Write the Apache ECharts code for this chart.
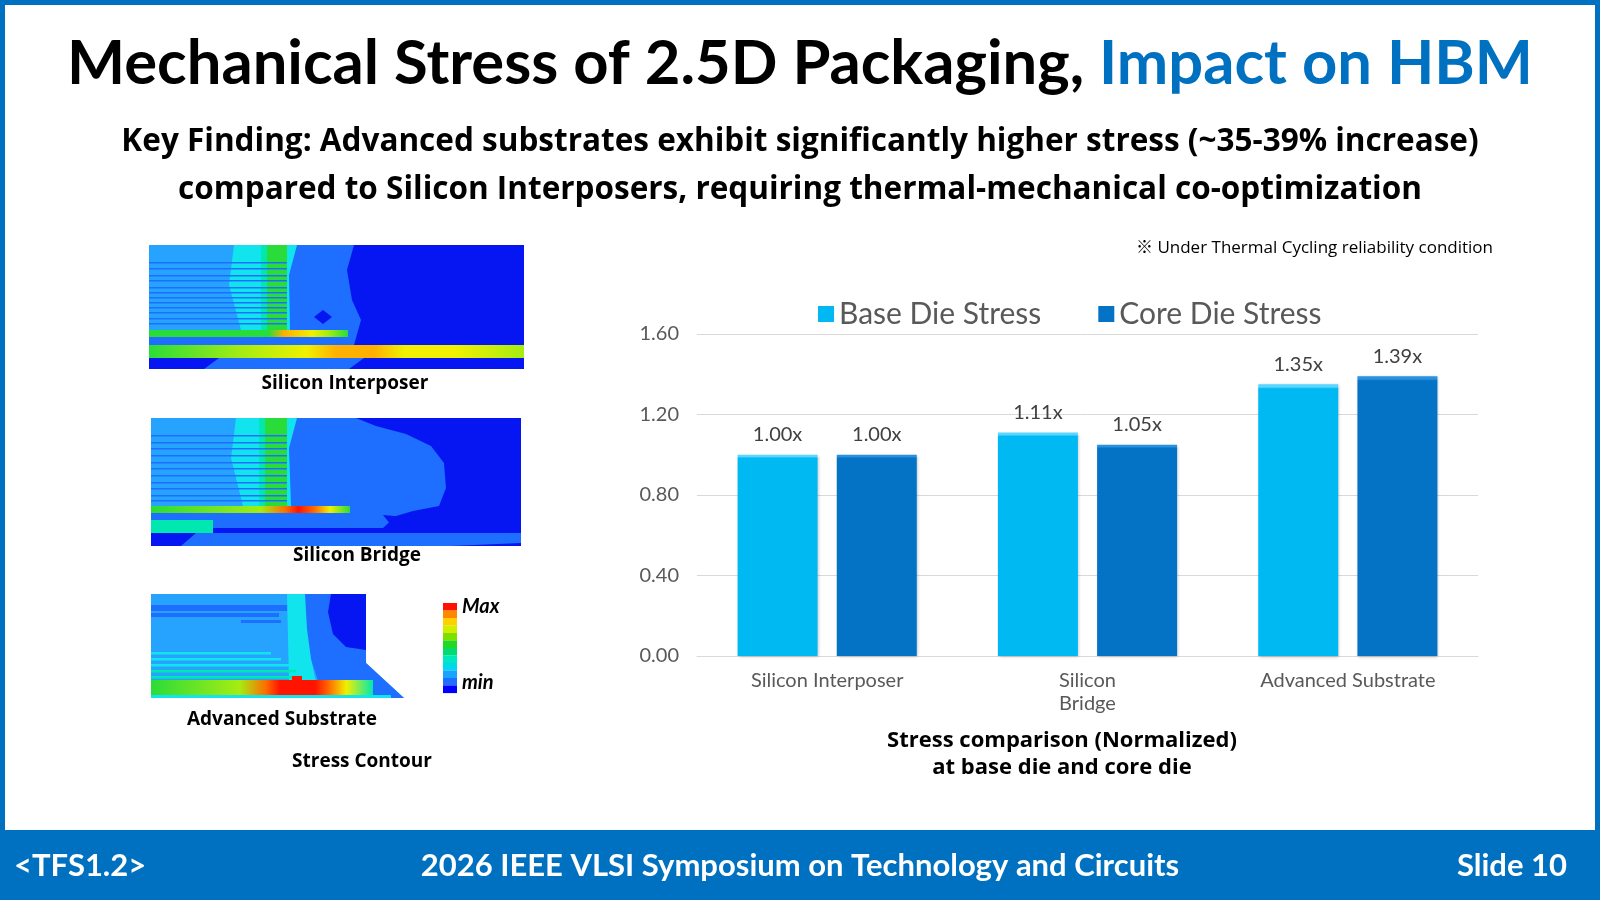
<!DOCTYPE html>
<html>
<head>
<meta charset="utf-8">
<script src="https://cdn.jsdelivr.net/npm/echarts@6/dist/echarts.min.js"></script>
<style>
  html, body { margin: 0; padding: 0; background: #fff; }
  #chart { width: 1600px; height: 900px; }
</style>
</head>
<body>
<div id="chart"></div>
<script>
const categories = ['Silicon Interposer', 'Silicon\nBridge', 'Advanced Substrate'];
const baseDieStress = [1.00, 1.11, 1.35];
const coreDieStress = [1.00, 1.05, 1.39];
const yTicks = [0, 0.4, 0.8, 1.2, 1.6];

const BLUE = '#0070c0';
const FONT = 'Lato';
const BODY = '"Open Sans", Lato';

// contour palette, min -> max
const C = {
  deep: '#0616f2', mid: '#1e6eff', light: '#25a3ff', cyan: '#12e4ee', aqua: '#00e8b0',
  green: '#2adc3a', lime: '#a6ec12', yellow: '#f0f000', amber: '#ffb000', orange: '#ff6a00', red: '#ff1400',
};
const scale = ['#0000ff', '#1e6eff', '#1aa2ff', '#00d8f0', '#00e8c0', '#00dc70',
  '#22d822', '#7ee000', '#d2ee00', '#ffd000', '#ff8800', '#ff1000'];

const chart = echarts.init(document.getElementById('chart'));

const grad = (stops) => new echarts.graphic.LinearGradient(0, 0, 1, 0,
  stops.map(([offset, color]) => ({ offset, color })));
const bevel = (top, body) => new echarts.graphic.LinearGradient(0, 0, 0, 1, [
  { offset: 0, color: top }, { offset: 0.01, color: top },
  { offset: 0.016, color: body }, { offset: 1, color: body },
]);
const R = (x, y, width, height, fill) => ({ type: 'rect', shape: { x, y, width, height }, style: { fill } });
const P = (points, fill) => ({ type: 'polygon', shape: { points }, style: { fill } });
const T = (text, x, y, size, opts = {}) => ({
  type: 'text', x, y,
  style: Object.assign({
    text, fill: '#000', fontSize: size, fontWeight: 'bold', fontFamily: BODY,
    textAlign: 'center', textVerticalAlign: 'middle',
  }, opts),
});
const stripes = (ys, w) => ys.map((y) => R(0, y, w, 1.6, C.mid));

// contour picture 1: silicon interposer
const img1 = {
  type: 'group', x: 149, y: 245,
  children: [
    R(0, 0, 375, 124, C.deep),
    P([[0, 0], [205, 0], [198, 25], [203, 55], [212, 75], [205, 100], [0, 100]], C.mid),
    P([[0, 0], [125, 0], [118, 40], [122, 85], [0, 85]], C.light),
    P([[85, 0], [148, 0], [140, 30], [141, 85], [92, 85], [80, 40]], C.cyan),
    R(112, 0, 6, 85, C.aqua),
    R(118, 0, 20, 85, C.green),
    ...stripes([17, 23, 30, 35, 42, 47, 52, 57, 62, 67, 73, 78], 138),
    P([[174, 65], [183, 72], [174, 79], [165, 72]], C.deep),
    R(0, 85, 199, 7, grad([[0, C.green], [0.6, C.green], [0.68, C.amber], [0.82, C.yellow], [0.9, C.lime], [1, C.green]])),
    R(0, 100, 375, 13, grad([[0, C.green], [0.25, C.lime], [0.42, C.yellow], [0.5, C.amber], [0.6, C.amber], [0.68, C.yellow], [0.82, C.yellow], [1, C.lime]])),
    P([[55, 124], [70, 113], [215, 113], [200, 124]], C.mid),
  ],
};

// contour picture 2: silicon bridge
const img2 = {
  type: 'group', x: 151, y: 418,
  children: [
    R(0, 0, 370, 128, C.deep),
    P([[0, 0], [205, 0], [225, 8], [255, 16], [280, 28], [293, 45], [295, 70], [288, 88], [262, 93], [245, 98], [232, 110], [0, 110]], C.mid),
    P([[0, 0], [125, 0], [120, 40], [124, 88], [0, 88]], C.light),
    P([[85, 0], [146, 0], [138, 30], [140, 88], [92, 88], [80, 40]], C.cyan),
    R(108, 0, 6, 88, C.aqua),
    R(114, 0, 22, 88, C.green),
    ...stripes([17, 24, 30, 37, 44, 50, 57, 64, 70, 77, 82], 136),
    R(0, 88, 199, 7, grad([[0, C.green], [0.55, C.lime], [0.68, C.orange], [0.74, C.red], [0.82, C.orange], [0.9, C.yellow], [1, C.green]])),
    R(0, 102, 62, 13, C.aqua),
    P([[30, 128], [45, 115], [370, 115], [370, 125], [300, 128]], C.mid),
    P([[232, 97], [255, 99], [244, 112]], C.deep),
  ],
};

// contour picture 3: advanced substrate
const img3 = {
  type: 'group', x: 151, y: 594,
  children: [
    P([[0, 0], [215, 0], [215, 69], [253, 104], [0, 104]], C.light),
    P([[152, 0], [215, 0], [215, 69], [253, 104], [228, 104], [205, 96], [168, 90], [160, 65], [154, 35]], C.mid),
    P([[180, 0], [215, 0], [215, 56], [195, 53], [182, 40], [177, 18]], C.deep),
    P([[136, 0], [154, 0], [156, 35], [160, 65], [165, 88], [138, 88]], C.cyan),
    R(0, 11, 136, 6, C.mid),
    R(0, 19, 128, 4, C.mid),
    R(90, 26, 40, 3, C.mid),
    R(0, 58, 120, 2.5, C.cyan),
    R(0, 64, 130, 2.5, C.cyan),
    R(0, 70, 140, 2.5, C.cyan),
    R(0, 76, 145, 2.5, C.aqua),
    R(0, 82, 150, 2.5, C.aqua),
    R(0, 86, 222, 15, grad([[0, C.green], [0.4, C.lime], [0.52, C.orange], [0.58, C.red], [0.74, C.red], [0.8, C.orange], [0.88, C.yellow], [1, C.aqua]])),
    R(141, 82, 10, 5, C.red),
    R(0, 101, 240, 3, C.cyan),
  ],
};

const colorBar = {
  type: 'group', x: 443, y: 603,
  children: scale.slice().reverse().map((c, i) => R(0, i * 7.5, 14, 7.6, c)),
};

const valueLabel = { show: true, position: 'top', distance: 10, color: '#404040', fontSize: 20, fontFamily: FONT, formatter: (p) => p.value.toFixed(2) + 'x' };

const option = {
  backgroundColor: '#fff',
  textStyle: { fontFamily: FONT },
  title: [
    {
      text: '{a|Mechanical Stress of 2.5D Packaging, }{b|Impact on HBM}',
      left: 'center', top: 28,
      textStyle: {
        rich: {
          a: { fontSize: 61.5, fontWeight: 'bold', color: '#000', fontFamily: FONT },
          b: { fontSize: 61.5, fontWeight: 'bold', color: BLUE, fontFamily: FONT },
        },
      },
    },
    {
      text: 'Key Finding: Advanced substrates exhibit significantly higher stress (~35-39% increase)\ncompared to Silicon Interposers, requiring thermal-mechanical co-optimization',
      left: 'center', top: 113,
      textStyle: { fontSize: 31.5, fontWeight: 'bold', color: '#000', lineHeight: 48, align: 'center', fontFamily: BODY },
    },
  ],
  legend: {
    left: 813, top: 294,
    icon: 'rect', itemWidth: 16, itemHeight: 16, itemGap: 57,
    textStyle: { fontSize: 30, color: '#595959', fontFamily: FONT },
  },
  grid: { left: 697, right: 122, top: 334, bottom: 244 },
  xAxis: {
    type: 'category',
    data: categories,
    axisLine: { lineStyle: { color: '#d9d9d9' } },
    axisTick: { show: false },
    axisLabel: { color: '#595959', fontSize: 20, margin: 13, lineHeight: 23, fontFamily: FONT },
  },
  yAxis: {
    type: 'value',
    min: yTicks[0], max: yTicks[yTicks.length - 1], interval: yTicks[1] - yTicks[0],
    axisLine: { show: false },
    axisTick: { show: false },
    splitLine: { lineStyle: { color: '#d9d9d9' } },
    axisLabel: { color: '#595959', fontSize: 20, margin: 18, formatter: (v) => v.toFixed(2), fontFamily: FONT },
  },
  series: [
    {
      name: 'Base Die Stress', type: 'bar', data: baseDieStress,
      barWidth: 80, barGap: '24%',
      itemStyle: { color: bevel('#5cd6ff', '#00b9f2'), shadowColor: 'rgba(0,0,0,0.25)', shadowBlur: 3, shadowOffsetX: 1, shadowOffsetY: 1 },
      label: valueLabel,
    },
    {
      name: 'Core Die Stress', type: 'bar', data: coreDieStress,
      barWidth: 80,
      itemStyle: { color: bevel('#2a91df', '#0473c6'), shadowColor: 'rgba(0,0,0,0.25)', shadowBlur: 3, shadowOffsetX: 1, shadowOffsetY: 1 },
      label: valueLabel,
    },
  ],
  graphic: [
    R(0, 0, 1600, 5, BLUE),
    R(0, 0, 5, 900, BLUE),
    R(1595, 0, 5, 900, BLUE),
    R(0, 830, 1600, 70, BLUE),
    T('<TFS1.2>', 14, 866, 31, { fill: '#fff', textAlign: 'left', fontFamily: FONT }),
    T('2026 IEEE VLSI Symposium on Technology and Circuits', 800, 866, 31, { fill: '#fff', fontFamily: FONT }),
    T('Slide 10', 1567, 866, 31, { fill: '#fff', textAlign: 'right', fontFamily: FONT }),
    T('※ Under Thermal Cycling reliability condition', 1493, 248, 17, { fontWeight: 'normal', textAlign: 'right', fontFamily: '"Open Sans", "Noto Sans CJK JP"' }),
    img1, img2, img3, colorBar,
    T('Max', 462, 607, 20, { fontStyle: 'italic', textAlign: 'left', fontFamily: FONT }),
    T('min', 462, 683, 20, { fontStyle: 'italic', textAlign: 'left', fontFamily: FONT }),
    T('Silicon Interposer', 345, 384, 19),
    T('Silicon Bridge', 357, 556, 19),
    T('Advanced Substrate', 282, 720, 19),
    T('Stress Contour', 362, 762, 19),
    T('Stress comparison (Normalized)', 1062, 741, 22),
    T('at base die and core die', 1062, 768, 22),
  ],
};

chart.setOption(option);
window.addEventListener('resize', () => chart.resize());
</script>
</body>
</html>
